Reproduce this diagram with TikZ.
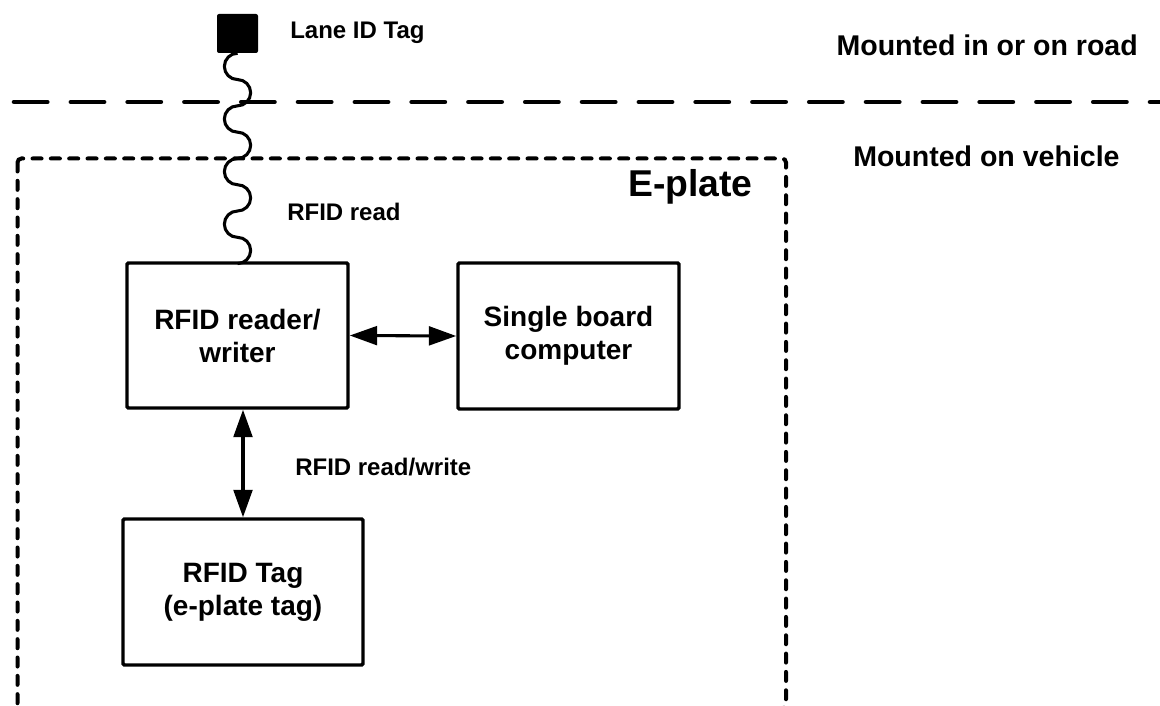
\documentclass[tikz,border=0pt]{standalone}
\usepackage{fontspec}
\setmainfont{Liberation Sans}
\usetikzlibrary{arrows.meta}
\begin{document}
\begin{tikzpicture}[x=0.75pt,y=-0.75pt,
  lbl/.style={font=\bfseries\fontsize{18}{21}\selectfont, inner sep=0pt},
  side/.style={font=\bfseries\fontsize{21.4}{25}\selectfont, inner sep=0pt},
  unit/.style={draw, line width=2.6pt, rounded corners=1pt, align=center,
    font=\bfseries\fontsize{21}{24.75}\selectfont},
  tip/.tip={Triangle[length=20.5pt,width=14pt]},
  link/.style={line width=2.3pt, tip-tip},
  roadline/.style={line width=3.4pt, line cap=round, dash pattern=on 25pt off 17.6pt},
  plate/.style={line width=3pt, line cap=round, rounded corners=3pt, dash pattern=on 6.75pt off 7pt},
  wave/.style={line width=2.3pt},
]
\useasboundingbox (0,0) rectangle (1160,706);
\clip (0,0) rectangle (1160,706);

% road / vehicle boundary
\coordinate (roadL) at (14,102);
\coordinate (roadR) at (1180,102);
\draw[roadline] (roadL) -- (roadR);

% e-plate enclosure
\draw[plate] (17.5,158.5) rectangle (786,708.5);

% components
\node[fill, rounded corners=1.5pt, minimum width=30.75pt, minimum height=29.25pt, inner sep=0pt]
  (lane) at (237.5,33.5) {};
\node[unit, minimum width=165.75pt, minimum height=108.75pt] (reader) at (237.5,335.5) {RFID reader/\\writer};
\node[unit, minimum width=165.75pt, minimum height=109.5pt] (sbc) at (568.5,336) {Single board\\computer};
\node[unit, minimum width=180pt, minimum height=109.5pt] (etag) at (243,592) {RFID Tag\\(e-plate tag)};

% labels
\node[lbl, anchor=base west] (lanelbl) at (290,39) {Lane ID Tag};
\node[side, anchor=base east] (roadlbl) at (1138,56) {Mounted in or on road};
\node[side, anchor=base west] (vehlbl) at (853,167) {Mounted on vehicle};
\node[font=\bfseries\fontsize{28}{32}\selectfont, inner sep=0pt, anchor=base east] (platelbl) at (753,197) {E-plate};
\node[lbl, anchor=base west] (readlbl) at (287,220) {RFID read};
\node[lbl, anchor=base west] (rwlbl) at (295,475) {RFID read/write};

% radio link from the lane tag down to the reader
\draw[wave] (lane.south)
  arc[start angle=90, end angle=270, radius=9.86pt]
  arc[start angle=90, end angle=-90, radius=9.86pt]
  arc[start angle=90, end angle=270, radius=9.86pt]
  arc[start angle=90, end angle=-90, radius=9.86pt]
  arc[start angle=90, end angle=270, radius=9.86pt]
  arc[start angle=90, end angle=-90, radius=9.86pt]
  arc[start angle=90, end angle=270, radius=9.86pt]
  arc[start angle=90, end angle=-90, radius=9.86pt];

% data links
\draw[link] (reader.east) -- (sbc.west);
\draw[link] (etag.north |- reader.south) -- (etag.north);
\end{tikzpicture}
\end{document}
